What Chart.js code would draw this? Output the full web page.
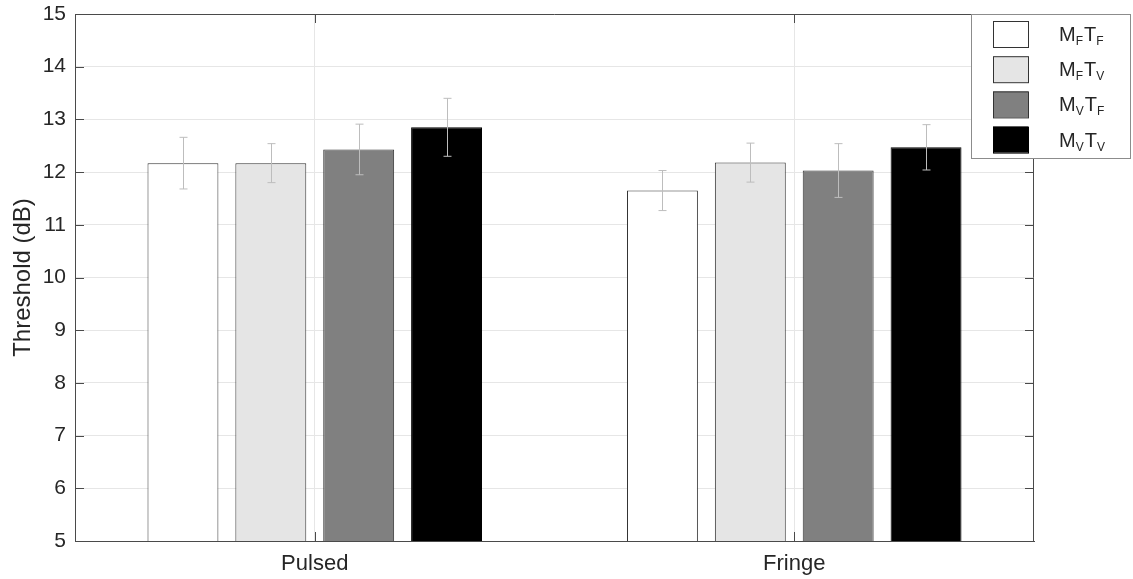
<!DOCTYPE html>
<html>
<head>
<meta charset="utf-8">
<script src="https://cdn.jsdelivr.net/npm/chart.js@4"></script>
<style>
  body { margin: 0; background: #fff; }
  #wrap { width: 1133px; height: 579px; }
</style>
</head>
<body>
<div id="wrap"><canvas id="thresholdChart"></canvas></div>
<script>
const categories = ['Pulsed', 'Fringe'];

// condition means (dB) and error half-widths
const mfTf = [12.17, 11.65];
const mfTfErr = [0.49, 0.38];
const mfTv = [12.17, 12.18];
const mfTvErr = [0.37, 0.37];
const mvTf = [12.43, 12.03];
const mvTfErr = [0.48, 0.51];
const mvTv = [12.85, 12.47];
const mvTvErr = [0.55, 0.43];

const yTicks = [5, 6, 7, 8, 9, 10, 11, 12, 13, 14, 15];

// legend labels as [main, subscript] pairs
const legendLabels = [
  [['M', 'F'], ['T', 'F']],
  [['M', 'F'], ['T', 'V']],
  [['M', 'V'], ['T', 'F']],
  [['M', 'V'], ['T', 'V']]
];

const FONT = '"Liberation Sans", Arial, sans-serif';
const INK = '#262626';
const AXIS = '#4a4a4a';

function makeSet(label, values, errs, fill, border) {
  return {
    label: label,
    data: values,
    errors: errs,
    backgroundColor: fill,
    borderColor: border,
    borderWidth: 1,
    categoryPercentage: 0.733,
    barPercentage: 0.807
  };
}

const errorBars = {
  id: 'errorBars',
  afterDatasetsDraw(chart) {
    const ctx = chart.ctx;
    const y = chart.scales.y;
    ctx.save();
    ctx.strokeStyle = '#bdbdbd';
    ctx.lineWidth = 1;
    chart.data.datasets.forEach((ds, i) => {
      const meta = chart.getDatasetMeta(i);
      meta.data.forEach((bar, j) => {
        const x = Math.round(bar.x) + 0.5;
        const top = y.getPixelForValue(ds.data[j] + ds.errors[j]);
        const bot = y.getPixelForValue(ds.data[j] - ds.errors[j]);
        ctx.beginPath();
        ctx.moveTo(x, top); ctx.lineTo(x, bot);
        ctx.moveTo(x - 4, top); ctx.lineTo(x + 4, top);
        ctx.moveTo(x - 4, bot); ctx.lineTo(x + 4, bot);
        ctx.stroke();
      });
    });
    ctx.restore();
  }
};

const frame = {
  id: 'frame',
  afterDraw(chart) {
    const ctx = chart.ctx;
    const a = chart.chartArea;
    const x = chart.scales.x, y = chart.scales.y;
    ctx.save();
    ctx.strokeStyle = AXIS;
    ctx.lineWidth = 1;
    ctx.beginPath();
    ctx.moveTo(a.left, a.top + 0.5); ctx.lineTo(a.right, a.top + 0.5);
    ctx.moveTo(a.right - 0.5, a.top); ctx.lineTo(a.right - 0.5, a.bottom);
    // inward ticks
    yTicks.forEach(v => {
      const py = Math.round(y.getPixelForValue(v)) + 0.5;
      ctx.moveTo(a.left, py); ctx.lineTo(a.left + 9, py);
      ctx.moveTo(a.right, py); ctx.lineTo(a.right - 9, py);
    });
    categories.forEach((c, i) => {
      const px = Math.round(x.getPixelForValue(i)) + 0.5;
      ctx.moveTo(px, a.bottom); ctx.lineTo(px, a.bottom - 9);
      ctx.moveTo(px, a.top); ctx.lineTo(px, a.top + 9);
    });
    ctx.stroke();

    // legend box
    const bx = 971, by = 14, bw = 159, bh = 144;
    ctx.fillStyle = '#fff';
    ctx.fillRect(bx, by, bw, bh);
    ctx.strokeStyle = '#8c8c8c';
    ctx.strokeRect(bx + 0.5, by + 0.5, bw, bh);
    chart.data.datasets.forEach((ds, i) => {
      const cy = 34 + i * 35.2;
      ctx.fillStyle = ds.backgroundColor;
      ctx.fillRect(993, cy - 13, 35, 26);
      ctx.strokeStyle = ds.borderColor;
      ctx.strokeRect(993.5, cy - 12.5, 35, 26);
      let tx = 1059;
      const base = cy + 7;
      ctx.fillStyle = INK;
      ctx.textBaseline = 'alphabetic';
      legendLabels[i].forEach(part => {
        ctx.font = '20px ' + FONT;
        ctx.fillText(part[0], tx, base);
        tx += ctx.measureText(part[0]).width;
        ctx.font = '12px ' + FONT;
        ctx.fillText(part[1], tx, base + 4);
        tx += ctx.measureText(part[1]).width + 1;
      });
    });
    ctx.restore();
  }
};

const chart = new Chart(document.getElementById('thresholdChart'), {
  type: 'bar',
  data: {
    labels: categories,
    datasets: [
      makeSet('MFTF', mfTf, mfTfErr, '#ffffff', '#333333'),
      makeSet('MFTV', mfTv, mfTvErr, '#e5e5e5', '#333333'),
      makeSet('MVTF', mvTf, mvTfErr, '#808080', '#333333'),
      makeSet('MVTV', mvTv, mvTvErr, '#000000', '#000000')
    ]
  },
  options: {
    responsive: true,
    maintainAspectRatio: false,
    animation: false,
    layout: { padding: { left: 0, top: 14, right: 99, bottom: 0 } },
    plugins: {
      legend: { display: false },
      tooltip: { enabled: false }
    },
    scales: {
      x: {
        grid: { display: true, offset: false, color: '#e6e6e6', drawTicks: false },
        border: { display: true, color: AXIS },
        ticks: { color: INK, font: { family: FONT, size: 22 }, padding: 10 },
        afterFit(scale) {
          scale.height = 38;
          scale.paddingLeft = 0;
          scale.paddingRight = 0;
        }
      },
      y: {
        min: 5,
        max: 15,
        afterBuildTicks(scale) { scale.ticks = yTicks.map(v => ({ value: v })); },
        grid: { color: '#e6e6e6', drawTicks: false },
        border: { display: true, color: AXIS },
        ticks: { color: INK, font: { family: FONT, size: 21 }, padding: 9 },
        title: {
          display: true,
          text: 'Threshold (dB)',
          color: INK,
          font: { family: FONT, size: 24 },
          padding: { top: 9, bottom: 0 }
        },
        afterFit(scale) {
          scale.width = 75;
          scale.paddingTop = 0;
          scale.paddingBottom = 0;
        }
      }
    }
  },
  plugins: [errorBars, frame]
});
</script>
</body>
</html>
